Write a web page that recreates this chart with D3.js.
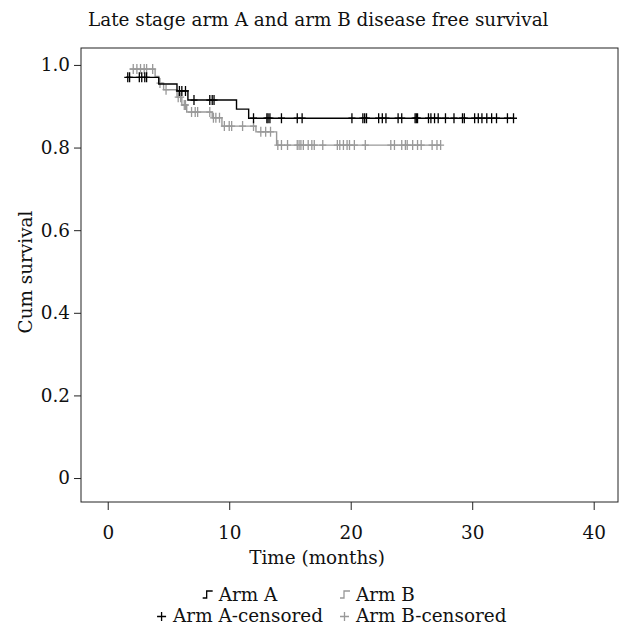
<!DOCTYPE html>
<html>
<head>
<meta charset="utf-8">
<script src="https://cdnjs.cloudflare.com/ajax/libs/d3/7.8.5/d3.min.js"></script>
<style>
  body { margin: 0; background: #fff; }
  text { font-family: "DejaVu Serif", serif; fill: #111; }
</style>
</head>
<body>
<svg id="chart"></svg>
<script>
// arm A: step times and survival after each step
const armATime = [1.5, 4.2, 5.7, 6.6, 10.6, 11.6];
const armASurv = [0.970, 0.954, 0.937, 0.915, 0.893, 0.871];
const armAEnd = 33.4;
const armACensor = [1.65, 1.8, 2.6, 2.8, 3.05, 3.2, 5.9, 6.1, 6.4, 7.1, 8.4, 8.6, 8.75,
    12.0, 13.1, 13.2, 13.35, 14.3, 15.6, 16.0, 20.1, 21.0, 21.15, 21.3, 22.3, 22.6, 22.9,
    23.9, 24.2, 25.3, 25.4, 25.5, 26.4, 26.6, 26.9, 27.2, 27.8, 28.5, 29.2, 29.35, 30.2,
    30.5, 30.8, 31.2, 31.6, 32.0, 32.9, 33.4];

// arm B
const armBTime = [1.8, 3.9, 4.2, 4.6, 5.7, 6.1, 6.5, 8.6, 9.4, 12.2, 13.9];
const armBSurv = [0.990, 0.972, 0.956, 0.940, 0.922, 0.903, 0.886, 0.872, 0.852, 0.838, 0.806];
const armBEnd = 27.4;
const armBCensor = [2.1, 2.4, 2.7, 3.0, 3.2, 3.7, 4.3, 4.8, 5.8, 6.0, 6.3, 6.4, 6.9, 7.2, 7.4,
    8.4, 8.7, 8.9, 9.2, 9.6, 10.0, 10.2, 11.1, 12.0, 12.6, 13.0, 13.4, 14.0, 14.3, 14.8,
    15.6, 15.75, 15.9, 16.1, 16.5, 16.8, 17.0, 17.7, 18.9, 19.1, 19.4, 19.7, 19.9, 20.3,
    21.2, 23.3, 23.6, 24.2, 24.5, 24.65, 25.1, 25.5, 25.8, 26.7, 27.1, 27.4];

const xTicks = [0, 10, 20, 30, 40];
const yTicks = [0, 0.2, 0.4, 0.6, 0.8, 1.0];

const W = 621, H = 630;
const plot = { left: 81, right: 618, top: 48, bottom: 502 };
const fontSize = "18.4px";

const svg = d3.select("#chart")
    .attr("width", W)
    .attr("height", H);

const x = d3.scaleLinear().domain([-2.2, 42]).range([plot.left, plot.right]);
const y = d3.scaleLinear().domain([-0.058, 1.041]).range([plot.bottom, plot.top]);

// frame
svg.append("rect")
    .attr("x", plot.left).attr("y", plot.top)
    .attr("width", plot.right - plot.left).attr("height", plot.bottom - plot.top)
    .attr("fill", "none").attr("stroke", "#222").attr("stroke-width", 1);

// axes
const xAxis = svg.append("g")
    .attr("transform", `translate(0,${plot.bottom})`)
    .call(d3.axisBottom(x).tickValues(xTicks).tickSize(8).tickPadding(16).tickFormat(d3.format("d")));
const yAxis = svg.append("g")
    .attr("transform", `translate(${plot.left},0)`)
    .call(d3.axisLeft(y).tickValues(yTicks).tickSize(7).tickPadding(4)
        .tickFormat(d => d === 0 ? "0" : d3.format(".1f")(d)));

[xAxis, yAxis].forEach(g => {
    g.select(".domain").remove();
    g.selectAll("line").attr("stroke", "#222");
    g.selectAll("text").style("font-family", "DejaVu Serif, serif").style("font-size", fontSize).attr("fill", "#111");
});

// step paths
function stepPoints(times, surv, end) {
    const pts = times.map((t, i) => [t, surv[i]]);
    pts.push([end, surv[surv.length - 1]]);
    return pts;
}
function survAt(times, surv, t) {
    let v = surv[0];
    times.forEach((tt, i) => { if (t >= tt) v = surv[i]; });
    return v;
}
const line = d3.line().x(d => x(d[0])).y(d => y(d[1])).curve(d3.curveStepAfter);

const arms = [
    { time: armBTime, surv: armBSurv, end: armBEnd, censor: armBCensor, color: "#999" },
    { time: armATime, surv: armASurv, end: armAEnd, censor: armACensor, color: "#000" }
];

arms.forEach(a => {
    svg.append("path")
        .datum(stepPoints(a.time, a.surv, a.end))
        .attr("d", line)
        .attr("fill", "none")
        .attr("stroke", a.color)
        .attr("stroke-width", 1.4);

    svg.append("g").selectAll("path")
        .data(a.censor)
        .join("path")
        .attr("d", t => {
            const cx = x(t), cy = y(survAt(a.time, a.surv, t));
            return `M${cx},${cy - 5}V${cy + 5}M${cx - 3.5},${cy}H${cx + 3.5}`;
        })
        .attr("stroke", a.color)
        .attr("stroke-width", 1.3);
});

// titles
svg.append("text")
    .attr("x", 88).attr("y", 26)
    .style("font-size", fontSize)
    .text("Late stage arm A and arm B disease free survival");

svg.append("text")
    .attr("x", 317).attr("y", 564)
    .attr("text-anchor", "middle")
    .style("font-size", fontSize)
    .text("Time (months)");

svg.append("text")
    .attr("transform", "translate(32,272) rotate(-90)")
    .attr("text-anchor", "middle")
    .style("font-size", fontSize)
    .text("Cum survival");

// legend: first column centred, second column left aligned
const legendItems = [
    { label: "Arm A", color: "#000", kind: "step", col: 0, y: 601 },
    { label: "Arm B", color: "#999", kind: "step", col: 1, y: 601 },
    { label: "Arm A-censored", color: "#000", kind: "plus", col: 0, y: 622 },
    { label: "Arm B-censored", color: "#999", kind: "plus", col: 1, y: 622 }
];
const col0Center = 240, col1Left = 340;

const lg = svg.append("g").selectAll("g")
    .data(legendItems)
    .join("g");

lg.append("text")
    .style("font-size", fontSize)
    .text(d => d.label);

lg.each(function (d) {
    const g = d3.select(this);
    const w = g.select("text").node().getComputedTextLength() + 16;
    const left = d.col === 0 ? col0Center - w / 2 : col1Left;
    g.attr("transform", `translate(${left},${d.y})`);
    g.select("text").attr("x", 16);
    g.append("path")
        .attr("d", d.kind === "step" ? "M0,-3H4V-10H10" : "M4.5,-10V-1M0,-5.5H9")
        .attr("fill", "none")
        .attr("stroke", d.color)
        .attr("stroke-width", 1.3);
});
</script>
</body>
</html>
